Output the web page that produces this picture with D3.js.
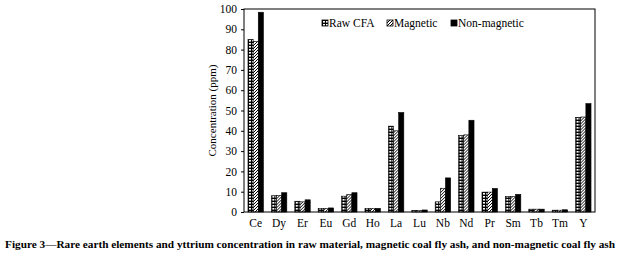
<!DOCTYPE html>
<html>
<head>
<meta charset="utf-8">
<script src="https://cdn.jsdelivr.net/npm/d3@7"></script>
<style>
  body { margin: 0; background: #fff; }
  text { font-family: "Liberation Serif", "Times New Roman", serif; }
</style>
</head>
<body>
<div id="chart"></div>
<script>
// Data
var elements = ["Ce", "Dy", "Er", "Eu", "Gd", "Ho", "La", "Lu", "Nb", "Nd", "Pr", "Sm", "Tb", "Tm", "Y"];
var rawCFA = [85, 8, 5.3, 1.8, 7.8, 1.8, 42.3, 0.8, 5, 37.6, 9.8, 7.7, 1.4, 0.9, 46.6];
var magnetic = [84, 8.2, 5, 1.8, 8.7, 1.7, 40, 0.7, 11.7, 38, 9.8, 7.7, 1.4, 0.9, 46.8];
var nonMagnetic = [98.4, 9.5, 6, 2, 9.5, 1.8, 49, 1, 16.8, 45.2, 11.6, 8.7, 1.4, 1.1, 53.4];
var seriesNames = ["Raw CFA", "Magnetic", "Non-magnetic"];
var yTicks = [0, 10, 20, 30, 40, 50, 60, 70, 80, 90, 100];

var W = 621, H = 256;
var margin = { top: 9, right: 26, bottom: 44, left: 244 };
var width = W - margin.left - margin.right;
var height = H - margin.top - margin.bottom;

var svg = d3.select("#chart").append("svg")
    .attr("width", W)
    .attr("height", H);

// fill patterns
var defs = svg.append("defs");
var checker = defs.append("pattern")
    .attr("id", "pat-raw")
    .attr("patternUnits", "userSpaceOnUse")
    .attr("width", 3).attr("height", 3);
checker.append("rect").attr("width", 3).attr("height", 3).attr("fill", "#000");
checker.append("rect").attr("x", 1).attr("y", 1).attr("width", 2).attr("height", 1.6).attr("fill", "#fff");

var hatch = defs.append("pattern")
    .attr("id", "pat-mag")
    .attr("patternUnits", "userSpaceOnUse")
    .attr("width", 3).attr("height", 3);
hatch.append("rect").attr("width", 3).attr("height", 3).attr("fill", "#fff");
hatch.append("path").attr("d", "M-1,1 L1,-1 M0,3 L3,0 M2,4 L4,2")
    .attr("stroke", "#000").attr("stroke-width", 1);

var fills = ["url(#pat-raw)", "url(#pat-mag)", "#000"];

var g = svg.append("g")
    .attr("transform", "translate(" + margin.left + "," + margin.top + ")");

// Scales
var x = d3.scaleBand().domain(elements).range([0, width]).paddingInner(0.34).paddingOuter(0.17);
var xs = d3.scaleBand().domain(d3.range(3)).range([0, x.bandwidth()]);
var y = d3.scaleLinear().domain([0, 100]).range([height, 0]);

// Bars
var rows = elements.map(function(el, i) {
    return { el: el, vals: [rawCFA[i], magnetic[i], nonMagnetic[i]] };
});

var groups = g.selectAll(".grp")
    .data(rows)
    .enter().append("g")
    .attr("class", "grp")
    .attr("transform", function(d) { return "translate(" + x(d.el) + ",0)"; });

groups.selectAll("rect")
    .data(function(d) { return d.vals; })
    .enter().append("rect")
    .attr("x", function(d, i) { return xs(i); })
    .attr("y", function(d) { return y(d); })
    .attr("width", xs.bandwidth())
    .attr("height", function(d) { return height - y(d); })
    .attr("fill", function(d, i) { return fills[i]; })
    .attr("stroke", "#000")
    .attr("stroke-width", 0.6);

// Frame
g.append("rect")
    .attr("width", width).attr("height", height)
    .attr("fill", "none").attr("stroke", "#000").attr("stroke-width", 1);

// Axes
var yAxis = d3.axisLeft(y).tickValues(yTicks).tickSize(3).tickPadding(4);
g.append("g").attr("class", "y-axis").call(yAxis)
    .call(function(a) { a.select(".domain").remove(); })
    .selectAll("text").attr("font-size", 11.5).attr("fill", "#000")
    .style("font-family", "Liberation Serif");

var xAxis = d3.axisBottom(x).tickSize(0).tickPadding(7);
g.append("g").attr("class", "x-axis")
    .attr("transform", "translate(0," + height + ")")
    .call(xAxis)
    .call(function(a) { a.select(".domain").remove(); })
    .selectAll("text").attr("font-size", 11.5).attr("fill", "#000")
    .style("font-family", "Liberation Serif");

// Y title
svg.append("text")
    .attr("transform", "translate(216," + (margin.top + height / 2) + ") rotate(-90)")
    .attr("text-anchor", "middle")
    .attr("font-size", 11)
    .text("Concentration (ppm)");

// Legend
var legendX = [322, 387, 451];
var legend = svg.selectAll(".legend")
    .data(seriesNames)
    .enter().append("g")
    .attr("class", "legend")
    .attr("transform", function(d, i) { return "translate(" + legendX[i] + ",20)"; });

legend.append("rect")
    .attr("width", 6).attr("height", 6)
    .attr("fill", function(d, i) { return fills[i]; })
    .attr("stroke", "#000").attr("stroke-width", 0.8);

legend.append("text")
    .attr("x", 7).attr("y", 7)
    .attr("font-size", 11.5)
    .text(function(d) { return d; });

// Caption
svg.append("text")
    .attr("x", 5).attr("y", 248)
    .attr("font-size", 11)
    .attr("font-weight", "bold")
    .attr("textLength", 610)
    .attr("lengthAdjust", "spacingAndGlyphs")
    .text("Figure 3\u2014Rare earth elements and yttrium concentration in raw material, magnetic coal fly ash, and non-magnetic coal fly ash");
</script>
</body>
</html>
